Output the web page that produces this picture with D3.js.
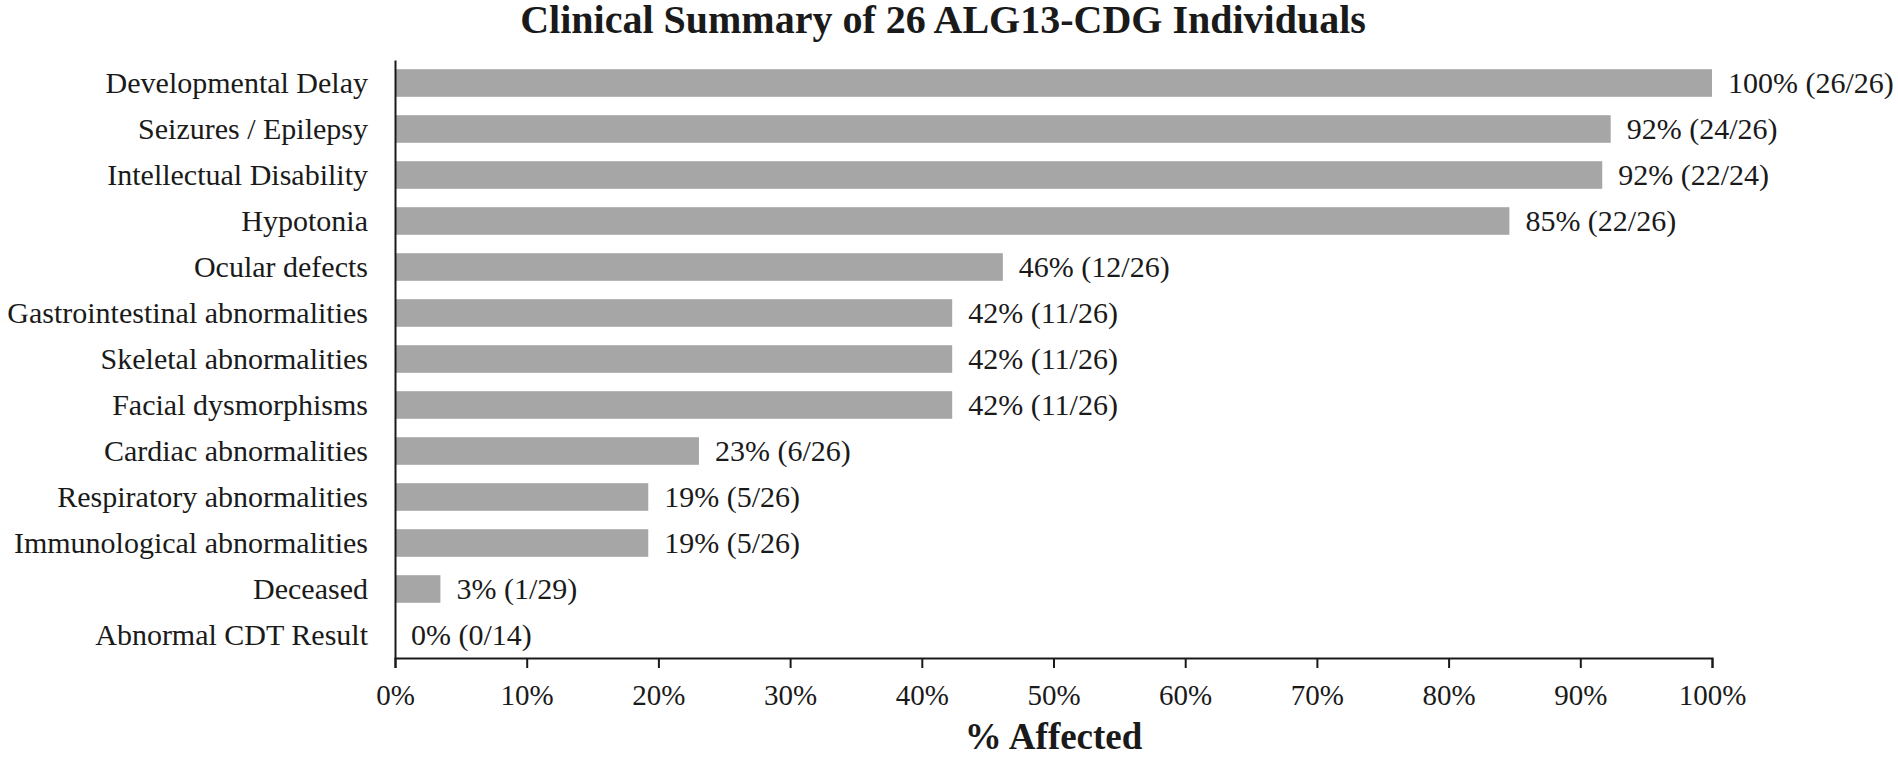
<!DOCTYPE html>
<html>
<head>
<meta charset="utf-8">
<script src="https://cdn.jsdelivr.net/npm/d3@7"></script>
<style>
  html, body { margin: 0; padding: 0; background: #ffffff; }
  svg { display: block; }
  text { font-family: "Liberation Serif", "Times New Roman", serif; fill: #1a1a1a; }
</style>
</head>
<body>
<svg id="chart" width="1898" height="760"></svg>
<script>
const categories = [
  "Developmental Delay",
  "Seizures / Epilepsy",
  "Intellectual Disability",
  "Hypotonia",
  "Ocular defects",
  "Gastrointestinal abnormalities",
  "Skeletal abnormalities",
  "Facial dysmorphisms",
  "Cardiac abnormalities",
  "Respiratory abnormalities",
  "Immunological abnormalities",
  "Deceased",
  "Abnormal CDT Result"
];
const affected = [26, 24, 22, 22, 12, 11, 11, 11, 6, 5, 5, 1, 0];
const assessed = [26, 26, 24, 26, 26, 26, 26, 26, 26, 26, 26, 29, 14];
const tickValues = [0, 0.1, 0.2, 0.3, 0.4, 0.5, 0.6, 0.7, 0.8, 0.9, 1.0];
const titleText = "Clinical Summary of 26 ALG13-CDG Individuals";
const xTitleText = "% Affected";

const data = categories.map((c, i) => ({
  cat: c,
  frac: affected[i] / assessed[i],
  label: Math.round(100 * affected[i] / assessed[i]) + "% (" + affected[i] + "/" + assessed[i] + ")"
}));

const svg = d3.select("#chart");
const plotLeft = 395, plotRight = 1712, plotTop = 60, plotBottom = 658;

const x = d3.scaleLinear().domain([0, 1]).range([plotLeft, plotRight]);
const y = d3.scaleBand().domain(categories).range([plotTop, plotBottom]).paddingInner(0.4).paddingOuter(0.2);

// title
svg.append("text")
  .attr("x", 943).attr("y", 33)
  .attr("text-anchor", "middle")
  .style("font-size", "40px").style("font-weight", "bold")
  .text(titleText);

// bars
svg.append("g").selectAll("rect").data(data).enter().append("rect")
  .attr("x", x(0))
  .attr("y", d => y(d.cat))
  .attr("width", d => x(d.frac) - x(0))
  .attr("height", y.bandwidth())
  .attr("fill", "#a6a6a6");

// value labels
svg.append("g").selectAll("text").data(data).enter().append("text")
  .attr("x", d => x(d.frac) + 16)
  .attr("y", d => y(d.cat) + y.bandwidth() / 2)
  .attr("dy", "0.32em")
  .style("font-size", "30px")
  .text(d => d.label);

// x axis
const xAxis = svg.append("g").attr("transform", `translate(0,${plotBottom})`)
  .call(d3.axisBottom(x).tickValues(tickValues).tickFormat(d3.format(".0%")).tickSize(10).tickSizeOuter(10).tickPadding(16));
xAxis.select(".domain").attr("stroke", "#1a1a1a").attr("stroke-width", 2);
xAxis.selectAll(".tick line").attr("stroke", "#1a1a1a").attr("stroke-width", 2);
xAxis.selectAll(".tick text")
  .style("font-family", "'Liberation Serif', 'Times New Roman', serif")
  .style("font-size", "29px").attr("fill", "#1a1a1a");

// y axis
const yAxis = svg.append("g").attr("transform", `translate(${plotLeft},0)`)
  .call(d3.axisLeft(y).tickSize(0).tickSizeOuter(0).tickPadding(27));
yAxis.select(".domain").attr("stroke", "#1a1a1a").attr("stroke-width", 2);
yAxis.selectAll(".tick text")
  .style("font-family", "'Liberation Serif', 'Times New Roman', serif")
  .style("font-size", "30px").attr("fill", "#1a1a1a");

// x axis title
svg.append("text")
  .attr("x", (plotLeft + plotRight) / 2).attr("y", 749)
  .attr("text-anchor", "middle")
  .style("font-size", "37px").style("font-weight", "bold")
  .text(xTitleText);
</script>
</body>
</html>
